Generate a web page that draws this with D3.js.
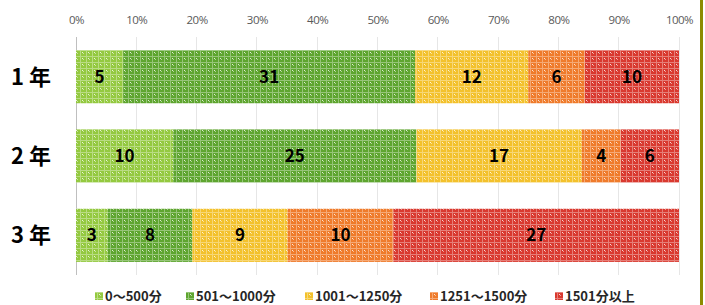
<!DOCTYPE html>
<html><head><meta charset="utf-8">
<script src="https://cdn.jsdelivr.net/npm/d3@7"></script>
<style>body{margin:0;background:#fff;}svg{display:block;}</style>
</head><body>
<script>
const categories = ["1 年", "2 年", "3 年"];
const seriesNames = ["0～500分", "501～1000分", "1001～1250分", "1251～1500分", "1501分以上"];
const s1 = [5, 10, 3];
const s2 = [31, 25, 8];
const s3 = [12, 17, 9];
const s4 = [6, 4, 10];
const s5 = [10, 6, 27];
const tickLabels = ["0%","10%","20%","30%","40%","50%","60%","70%","80%","90%","100%"];
const colors = ["#94c940", "#5ea52f", "#f3c12c", "#ef7b2b", "#d9392f"];
const series = [s1, s2, s3, s4, s5];

const W = 705, H = 305;
const svg = d3.select("body").append("svg").attr("width", W).attr("height", H);
const defs = svg.append("defs");
colors.forEach((c, i) => {
  const p = defs.append("pattern").attr("id", "p" + i).attr("patternUnits", "userSpaceOnUse")
    .attr("width", 6).attr("height", 6);
  p.append("rect").attr("width", 6).attr("height", 6).attr("fill", c);
  const light = d3.interpolateRgb(c, "#fff")(0.35);
  p.append("rect").attr("x", 0).attr("y", 2).attr("width", 6).attr("height", 1).attr("fill", light);
  p.append("rect").attr("x", 2).attr("y", 0).attr("width", 1).attr("height", 6).attr("fill", light);
  p.append("rect").attr("x", 4).attr("y", 4).attr("width", 1).attr("height", 1).attr("fill", "#fff").attr("opacity", 0.8);
  p.append("rect").attr("x", 5).attr("y", 5).attr("width", 1).attr("height", 1).attr("fill", d3.interpolateRgb(c, "#fff")(0.5));
});

const x = d3.scaleLinear().domain([0, 1]).range([76, 679]);
const y = d3.scaleBand().domain(categories).range([37, 275]).paddingInner(0.33).paddingOuter(0.165);

// gridlines
const grid = svg.append("g");
grid.selectAll("line").data(d3.range(0, 11)).join("line")
  .attr("x1", d => x(d / 10)).attr("x2", d => x(d / 10))
  .attr("y1", 37).attr("y2", 275)
  .attr("stroke", d => d === 0 ? "#bfbfbf" : "#e6e6e6").attr("stroke-width", 1)
  .attr("shape-rendering", "crispEdges");

// axis ticks
const axis = d3.axisTop(x).tickValues(d3.range(0, 11).map(d => d / 10))
  .tickFormat((d, i) => tickLabels[i]).tickSize(0).tickPadding(0);
const ag = svg.append("g").attr("transform", "translate(0,24)").call(axis);
ag.select(".domain").remove();
ag.selectAll("text").attr("fill", "#595959").style("font-family", "'Open Sans', sans-serif")
  .style("font-size", "11.5px").attr("letter-spacing", "-0.5px");

// stacked data
const rows = categories.map((c, i) => {
  const vals = series.map(s => s[i]);
  const total = d3.sum(vals);
  let acc = 0;
  return vals.map((v, j) => { const seg = {cat: c, j, v, x0: acc / total, x1: (acc + v) / total}; acc += v; return seg; });
}).flat();

svg.append("g").selectAll("rect").data(rows).join("rect")
  .attr("x", d => x(d.x0)).attr("width", d => x(d.x1) - x(d.x0))
  .attr("y", d => y(d.cat)).attr("height", y.bandwidth())
  .attr("fill", d => `url(#p${d.j})`);

svg.append("g").selectAll("text").data(rows).join("text")
  .attr("x", d => (x(d.x0) + x(d.x1)) / 2)
  .attr("y", d => y(d.cat) + y.bandwidth() / 2)
  .attr("dy", "0.36em").attr("text-anchor", "middle")
  .style("font-family", "'Noto Sans CJK JP', sans-serif").style("font-weight", "bold")
  .style("font-size", "17px").attr("fill", "#000")
  .text(d => d.v);

// category labels
svg.append("g").selectAll("text").data(categories).join("text")
  .attr("x", 31).attr("y", d => y(d) + y.bandwidth() / 2).attr("dy", "0.36em")
  .attr("text-anchor", "middle")
  .style("font-family", "'Noto Sans CJK JP', sans-serif").style("font-weight", "bold")
  .style("font-size", "22px").attr("fill", "#000")
  .text(d => d);

// legend
const legX = [95, 186, 305, 430, 555];
const lg = svg.append("g").selectAll("g").data(seriesNames).join("g")
  .attr("transform", (d, i) => `translate(${legX[i]},296)`);
lg.append("rect").attr("x", 0).attr("y", -4).attr("width", 8).attr("height", 8)
  .attr("fill", (d, i) => `url(#p${i})`);
lg.append("text").attr("x", 10).attr("dy", "0.36em")
  .style("font-family", "'Noto Sans CJK JP', sans-serif").style("font-weight", "bold")
  .style("font-size", "13px").attr("fill", "#262626")
  .text(d => d);

// right border line
svg.append("rect").attr("x", 700).attr("y", 0).attr("width", 3).attr("height", H).attr("fill", "#8c8c00");
</script>
</body></html>
